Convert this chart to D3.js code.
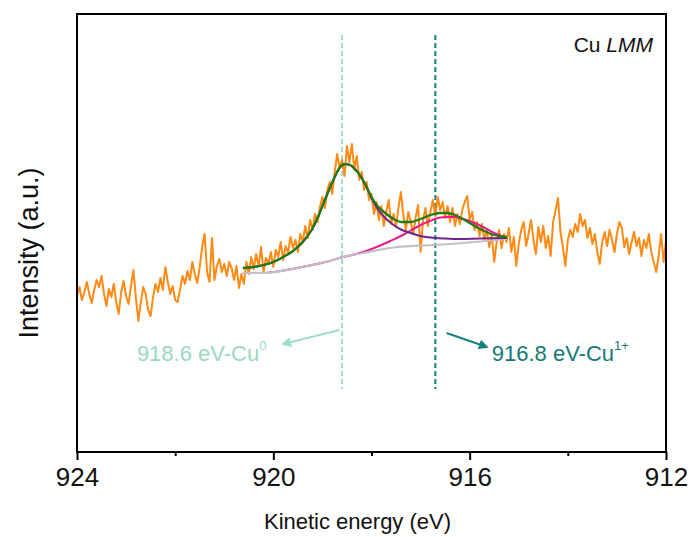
<!DOCTYPE html>
<html>
<head>
<meta charset="utf-8">
<script src="https://cdn.jsdelivr.net/npm/d3@7"></script>
<style>
  html, body { margin: 0; padding: 0; background: #fff; }
  svg { display: block; font-family: "Liberation Sans", Arial, sans-serif; }
</style>
</head>
<body>
<svg id="chart" width="692" height="537"></svg>
<script>
// ---------------- DATA ----------------
// Raw spectrum, kinetic energy 924.00 -> 912.00 eV in 0.05 eV steps (arbitrary intensity units)
const rawIntensity = [
  157,165,152,160,170,158,149,162,172,165,
  176,158,146,163,155,168,150,138,160,171,
  156,148,166,182,154,131,150,165,158,142,
  136,155,168,160,174,162,185,170,158,166,
  152,150,163,176,168,181,172,190,178,169,
  185,
  205,218,180,170,214,172,186,193,180,188,176,190,184,172,186,164,178,
  168,190,178,195,183,198,186,205,180,194,
  188,200,185,202,195,210,192,206,199,215,
  204,212,200,218,210,226,214,232,222,238,
  230,245,
  255,244,262,270,258,280,298,284,292,276,
  306,290,308,282,296,272,280,262,270,252,
  258,
  238,250,232,246,226,240,252,228,238,225,
  245,260,236,222,240,230,218,235,247,200,
  232,244,226,240,252,236,255,242,250,234,
  246,230,244,226,238,228,242,250,256,232,
  240,222,230,216,228,212,222,205,218,190,
  210,222,204,218,210,
  224,200,215,186,208,222,230,206,218,232,
  212,198,225,210,226,204,216,196,230,242,
  254,220,205,186,212,222,215,228,220,238,
  226,232,214,224,208,218,200,188,210,220,
  206,222,212,200,218,230,224,205,214,198,
  210,220,206,214,196,212,204,218,200,190,
  180,196,218,190,212
];
const energyStart = 924.00;
const energyStep = 0.05;

// Fit envelope (green)
const fitEnvelope = [
  [920.62,184],[920.40,185],[920.20,187],[920.00,190],[919.80,195],[919.60,201],
  [919.40,210],[919.22,222],[919.08,236],[918.95,252],[918.84,265],[918.74,276],
  [918.64,285],[918.54,288],[918.44,287],[918.32,282],[918.20,274],[918.10,265],
  [918.00,255],[917.86,245],[917.72,239],[917.55,233],[917.38,230],[917.20,230],
  [917.00,233],[916.80,237],[916.60,239],[916.45,239],[916.30,237],[916.10,232],
  [915.90,226],[915.70,221],[915.50,217],[915.24,215]
];
// Cu0 component + background (purple)
const fitCu0 = [
  [920.62,184],[920.40,185],[920.20,187],[920.00,190],[919.80,195],[919.60,201],
  [919.40,210],[919.22,222],[919.08,236],[918.95,252],[918.84,265],[918.74,276],
  [918.64,285],[918.54,288],[918.44,287],[918.32,282],[918.20,274],[918.10,265],
  [918.00,254],[917.86,242],[917.72,234],[917.55,227],[917.38,222],[917.20,219],
  [917.00,216],[916.80,214.5],[916.50,213.5],[916.20,213],[915.80,213.5],[915.24,214]
];
// Cu1+ component + background (pink)
const fitCu1 = [
  [920.62,179],[920.21,179],[919.52,184],[918.85,191],[918.58,195],[918.35,197.5],
  [918.17,200],[918.00,203],[917.80,207],[917.62,211],[917.40,216],[917.22,221],
  [917.00,227],[916.81,231],[916.65,234],[916.46,235],[916.30,235],[916.14,233],
  [915.95,230],[915.73,225],[915.50,219],[915.24,214]
];
// Background (grey)
const background = [
  [920.62,179],[920.21,179],[919.52,184],[918.85,191],[918.58,195],[918.17,199],
  [917.48,205],[916.75,207],[916.14,209],[915.24,213]
];

const xTicksMajor = [924, 920, 916, 912];
const xTicksMinor = [922, 918, 914];
const refEnergies = [918.6, 916.7];
const refLabels = ["918.6 eV-Cu", "916.8 eV-Cu"];
const refSups = ["0", "1+"];
const refColors = ["#9edfcc", "#17807e"];
const textColors = ["#9ad8c4", "#137876"];

// ---------------- CHART ----------------
const svg = d3.select("#chart");
const L = 77, R = 666, T = 14, B = 452;

const x = d3.scaleLinear().domain([924, 912]).range([L, R]);
const y = d3.scaleLinear().domain([0, 438]).range([B, T]);

const spectrum = rawIntensity.map((v, i) => [energyStart - i * energyStep, v]);

const line = d3.line().x(d => x(d[0])).y(d => y(d[1]));
const smooth = d3.line().x(d => x(d[0])).y(d => y(d[1])).curve(d3.curveMonotoneX);

// reference dashed lines
svg.selectAll(".ref").data(refEnergies).join("line")
  .attr("x1", d => x(d)).attr("x2", d => x(d))
  .attr("y1", y(417)).attr("y2", y(63))
  .attr("stroke", (d, i) => refColors[i])
  .attr("stroke-width", 2)
  .attr("stroke-dasharray", "5,3");

// spectrum
svg.append("path").datum(spectrum)
  .attr("d", line).attr("fill", "none")
  .attr("stroke", "#ff8a14").attr("stroke-width", 2)
  .attr("stroke-linejoin", "round");

// fits
svg.append("path").datum(fitCu1).attr("d", smooth).attr("fill", "none")
  .attr("stroke", "#ee1a8c").attr("stroke-width", 2);
svg.append("path").datum(background).attr("d", smooth).attr("fill", "none")
  .attr("stroke", "#c4bec6").attr("stroke-width", 2.2);
svg.append("path").datum(fitCu0).attr("d", smooth).attr("fill", "none")
  .attr("stroke", "#6e2290").attr("stroke-width", 2);
svg.append("path").datum(fitEnvelope).attr("d", smooth).attr("fill", "none")
  .attr("stroke", "#217a12").attr("stroke-width", 2.3);

// arrows
const defs = svg.append("defs");
refColors.forEach((c, i) => {
  defs.append("marker").attr("id", "ah" + i)
    .attr("viewBox", "0 0 10 10").attr("refX", 8).attr("refY", 5)
    .attr("markerWidth", 5).attr("markerHeight", 5).attr("orient", "auto")
    .append("path").attr("d", "M0,0 L10,5 L0,10 Z").attr("fill", c);
});
const arrows = [
  {from: [918.65, 122], to: [919.80, 108], i: 0},
  {from: [916.47, 119], to: [915.65, 105], i: 1}
];
svg.selectAll(".arrow").data(arrows).join("line")
  .attr("x1", d => x(d.from[0])).attr("y1", d => y(d.from[1]))
  .attr("x2", d => x(d.to[0])).attr("y2", d => y(d.to[1]))
  .attr("stroke", d => refColors[d.i]).attr("stroke-width", 2)
  .attr("marker-end", d => `url(#ah${d.i})`);

// annotation labels
const labelPos = [[922.78, 91], [915.55, 91]];
labelPos.forEach((p, i) => {
  const t = svg.append("text")
    .attr("x", x(p[0])).attr("y", y(p[1]))
    .attr("fill", textColors[i]).attr("font-size", 22);
  t.append("tspan").text(refLabels[i]);
  t.append("tspan").attr("font-size", 13).attr("dy", -11).text(refSups[i]);
});

// frame
svg.append("rect").attr("x", L).attr("y", T).attr("width", R - L).attr("height", B - T)
  .attr("fill", "none").attr("stroke", "#000").attr("stroke-width", 2);

// x axis ticks
const gx = svg.append("g").attr("transform", `translate(0,${B})`);
gx.call(d3.axisBottom(x).tickValues(xTicksMajor).tickSize(8).tickFormat(d3.format("d")));
gx.select(".domain").remove();
gx.selectAll(".tick line").attr("stroke", "#000").attr("stroke-width", 2);
gx.selectAll(".tick text").attr("font-size", 26).attr("fill", "#111")
  .attr("font-family", "Liberation Sans, Arial, sans-serif").attr("dy", "0.95em").attr("y", 9);
const gxm = svg.append("g").attr("transform", `translate(0,${B})`);
gxm.call(d3.axisBottom(x).tickValues(xTicksMinor).tickSize(4).tickFormat(""));
gxm.select(".domain").remove();
gxm.selectAll(".tick line").attr("stroke", "#000").attr("stroke-width", 2);

// axis titles
svg.append("text").attr("x", (L + R) / 2 - 14).attr("y", 529)
  .attr("text-anchor", "middle").attr("font-size", 22).attr("fill", "#111")
  .text("Kinetic energy (eV)");
svg.append("text").attr("transform", `translate(38,${(T + B) / 2 + 20}) rotate(-90)`)
  .attr("text-anchor", "middle").attr("font-size", 27).attr("fill", "#111")
  .text("Intensity (a.u.)");

// Cu LMM label
const cu = svg.append("text").attr("x", 653).attr("y", 52)
  .attr("text-anchor", "end").attr("font-size", 21).attr("fill", "#111");
cu.append("tspan").text("Cu ");
cu.append("tspan").attr("font-style", "italic").text("LMM");
</script>
</body>
</html>
